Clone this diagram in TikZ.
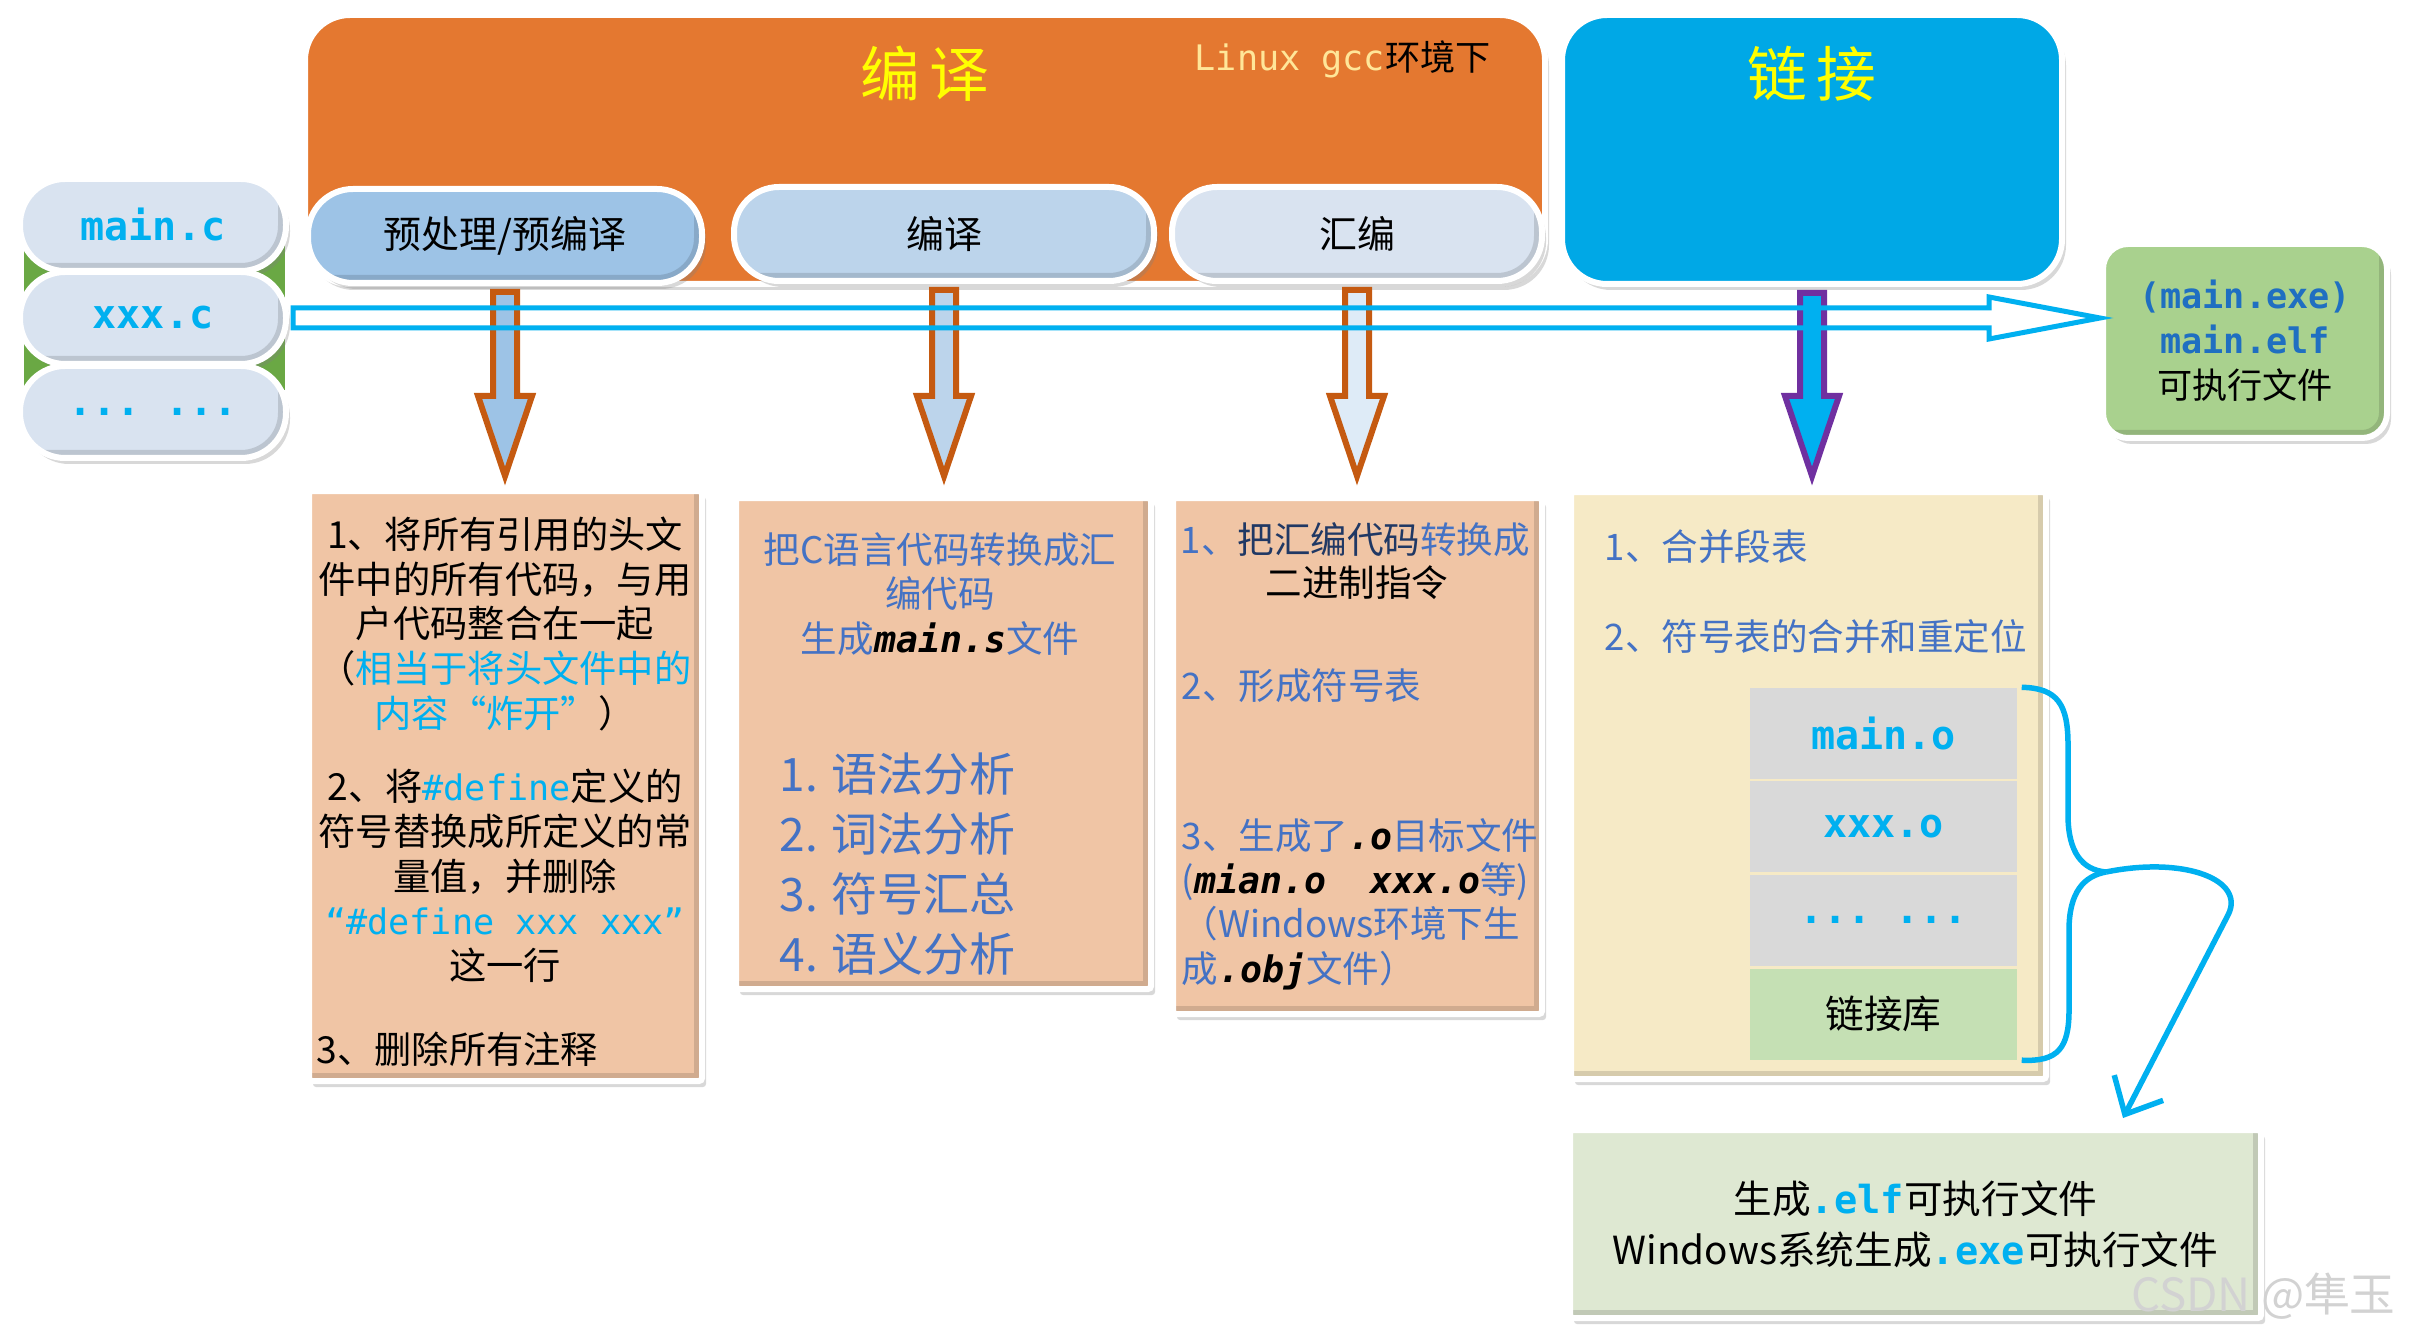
\documentclass[tikz,border=0pt]{standalone}
\usepackage{fontspec}
\setmainfont{Noto Sans CJK SC}
\setmonofont{DejaVu Sans Mono}
\usetikzlibrary{calc,shadows,arrows.meta}

\definecolor{orangeBox}{HTML}{E47830}
\definecolor{linkBlue}{HTML}{00A8E6}
\definecolor{titleYellow}{HTML}{FFFF00}
\definecolor{gccYellow}{HTML}{FFE699}
\definecolor{pillA}{HTML}{9DC3E6}
\definecolor{pillB}{HTML}{BCD4EB}
\definecolor{pillC}{HTML}{D9E3F0}
\definecolor{arrC}{HTML}{DEEBF7}
\definecolor{fileGreen}{HTML}{6AA844}
\definecolor{codeCyan}{HTML}{00B0F0}
\definecolor{textBlue}{HTML}{4472C4}
\definecolor{navyText}{HTML}{203864}
\definecolor{exeBlue}{HTML}{1F6FC1}
\definecolor{arrOrange}{HTML}{C55A11}
\definecolor{arrPurple}{HTML}{7030A0}
\definecolor{peach}{HTML}{F0C5A5}
\definecolor{cream}{HTML}{F6EAC6}
\definecolor{cellGray}{HTML}{D9D9D9}
\definecolor{cellGreen}{HTML}{C5E0B4}
\definecolor{exeGreen}{HTML}{A9D18E}
\definecolor{elfGreen}{HTML}{DEE8D2}

\tikzset{
  whitebox/.style={draw=white, line width=0.6mm,
    drop shadow={shadow xshift=0.4mm, shadow yshift=-0.6mm, opacity=0.3}},
  bevel/.style={path picture={\draw[line width=1.6mm, draw=black, opacity=0.13]
    (path picture bounding box.south west) -- (path picture bounding box.south east)
    -- (path picture bounding box.north east);}},
  title/.style={font=\fontsize{17}{20}\selectfont, text=titleYellow},
  stage/.style={whitebox, bevel, rounded corners=4.5mm, minimum height=9.4mm,
    font=\fontsize{10.8}{13}\selectfont},
  srcfile/.style={stage, fill=pillC, minimum width=26.6mm, minimum height=9.2mm,
    text=codeCyan, font=\fontsize{11.4}{13}\selectfont\ttfamily\bfseries},
  descbox/.style={whitebox, bevel, rounded corners=0.3mm, fill=peach, inner sep=0},
  cell/.style={minimum width=26.7mm, minimum height=9.1mm, fill=cellGray,
    text=codeCyan, font=\fontsize{11.4}{13}\selectfont\ttfamily\bfseries},
  body/.style={font=\fontsize{10.6}{12.7}\selectfont, inner sep=0, align=center},
  note/.style={font=\fontsize{10.4}{12.6}\selectfont, inner sep=0, text=textBlue},
  flowline/.style={draw=codeCyan, line width=0.5mm, line join=miter},
  brace/.style={draw=codeCyan, line width=0.55mm},
}

% block arrow: start, tip, fill, outline
\newcommand{\blockarr}[4]{%
  \draw[line width=0.6mm, draw=#4, fill=#3, line join=miter]
    ($(#1)+(-12,0)$) -- ($(#1)+(12,0)$) -- ($(#2)+(12,-80)$) -- ($(#2)+(27,-80)$)
    -- (#2) -- ($(#2)+(-27,-80)$) -- ($(#2)+(-12,-80)$) -- cycle;
}

\begin{document}
\begin{tikzpicture}[x=0.1mm, y=-0.1mm]
	\useasboundingbox (0,0) rectangle (2418,1339);
	\fill[white] (0,0) rectangle (2418,1339);

	% Compile stage
	\node[whitebox, fill=orangeBox, rounded corners=4.5mm, minimum width=124mm, minimum height=26.9mm] (compile) at (925,149.5) {};
	\node[title] (compileT) at (925,74) {编\,译};
	\node[anchor=east, font=\fontsize{10}{12}\selectfont] (env) at (1503,59) {\textcolor{gccYellow}{\ttfamily Linux gcc}环境下};

	% Link stage
	\node[whitebox, fill=linkBlue, rounded corners=4.5mm, minimum width=50mm, minimum height=26.9mm] (link) at (1812,149.5) {};
	\node[title] (linkT) at (1812,74) {链\,接};

	% Steps
	\node[stage, fill=pillA, minimum width=39.4mm] (pre) at (505,236) {预处理/预编译};
	\node[stage, fill=pillB, minimum width=42mm] (cc) at (944,234) {编译};
	\node[stage, fill=pillC, minimum width=37mm] (asm) at (1357,234) {汇编};

	% Source files
	\fill[fileGreen] (24,245) rectangle (285,390);
	\node[srcfile] (mainc) at (153,225) {main.c};
	\node[srcfile] (xxxc) at (153,318) {xxx.c};
	\node[srcfile] (morec) at (153,412) {... ...};

	% Result
	\node[whitebox, bevel, rounded corners=2.5mm, fill=exeGreen, minimum width=28.4mm, minimum height=19.4mm,
		align=center, font=\fontsize{10}{12.8}\selectfont] (exe) at (2245,341)
		{\textcolor{exeBlue}{\ttfamily\bfseries (main.exe)}\\\textcolor{exeBlue}{\ttfamily\bfseries main.elf}\\可执行文件};

	% Description boxes
	\node[descbox, minimum width=39.3mm, minimum height=59mm] (desc1) at (505.5,786) {};
	\node[descbox, minimum width=41.5mm, minimum height=49.1mm] (desc2) at (943.5,743.5) {};
	\node[descbox, minimum width=36.9mm, minimum height=51.6mm] (desc3) at (1357.5,756) {};
	\node[descbox, fill=cream, minimum width=47.5mm, minimum height=58.7mm] (desc4) at (1808.5,785.5) {};

	% Preprocess notes
	\node[body] (d1a) at (505,624) {1、将所有引用的头文\\件中的所有代码，与用\\户代码整合在一起\\（\textcolor{codeCyan}{相当于将头文件中的}\\\textcolor{codeCyan}{内容“炸开”}）};
	\node[body] (d1b) at (505,876) {2、将\textcolor{codeCyan}{\ttfamily\fontsize{10}{12.7}\selectfont \#define}定义的\\符号替换成所定义的常\\量值，并删除\\\textcolor{codeCyan}{\ttfamily\fontsize{10}{12.7}\selectfont “\#define xxx xxx”}\\这一行};
	\node[body, anchor=west] (d1c) at (316,1049) {3、删除所有注释};

	% Compile notes
	\node[note, align=center] (d2a) at (940,594) {把C语言代码转换成汇\\编代码\\生成\textcolor{black}{\ttfamily\bfseries\itshape main.s}文件};
	\node[note, anchor=west, align=left, font=\fontsize{13.1}{17.1}\selectfont] (d2b) at (779,864) {1. 语法分析\\2. 词法分析\\3. 符号汇总\\4. 语义分析};

	% Assemble notes
	\node[note, anchor=west] (d3a) at (1180,540) {1、\textcolor{navyText}{把汇编代码}转换成};
	\node[note, text=black] (d3b) at (1357,583) {二进制指令};
	\node[note, anchor=west] (d3c) at (1181,686) {2、形成符号表};
	\node[note, anchor=west, align=left] (d3d) at (1181,904) {3、生成了\textcolor{black}{\ttfamily\bfseries\itshape .o}目标文件\\(\textcolor{black}{\ttfamily\bfseries\itshape mian.o\ \ xxx.o}等)\\（Windows环境下生\\成\textcolor{black}{\ttfamily\bfseries\itshape .obj}文件）};

	% Link notes
	\node[note, anchor=west] (d4a) at (1604,547) {1、合并段表};
	\node[note, anchor=west] (d4b) at (1604,637) {2、符号表的合并和重定位};
	\node[cell] (mo) at (1883.5,733.5) {main.o};
	\node[cell] (xo) at (1883.5,826.5) {xxx.o};
	\node[cell] (mo2) at (1883.5,920) {... ...};
	\node[cell, fill=cellGreen, text=black, font=\fontsize{11}{13}\selectfont] (lib) at (1883.5,1014) {链接库};

	% Output of the linker
	\node[whitebox, bevel, rounded corners=0.3mm, fill=elfGreen, minimum width=69.1mm, minimum height=18.8mm,
		align=center, font=\fontsize{11}{14.5}\selectfont] (elf) at (1915.5,1224)
		{生成\textcolor{codeCyan}{\ttfamily\bfseries .elf}可执行文件\\Windows系统生成\textcolor{codeCyan}{\ttfamily\bfseries .exe}可执行文件};

	% Down arrows
	\coordinate (tipY) at (0,476);
	\coordinate (a1s) at ($(pre.south)+(0,6)$);
	\coordinate (a1e) at (pre.south |- tipY);
	\coordinate (a2s) at ($(cc.south)+(0,6)$);
	\coordinate (a2e) at (cc.south |- tipY);
	\coordinate (a3s) at ($(asm.south)+(0,6)$);
	\coordinate (a3e) at (asm.south |- tipY);
	\coordinate (a4s) at ($(link.south)+(0,6)$);
	\coordinate (a4e) at (link.south |- tipY);
	\blockarr{a1s}{a1e}{pillA}{arrOrange}
	\blockarr{a2s}{a2e}{pillB}{arrOrange}
	\blockarr{a3s}{a3e}{arrC}{arrOrange}
	\blockarr{a4s}{a4e}{codeCyan}{arrPurple}

	% Hollow arrow to the executable
	\coordinate (arrS) at ($(xxxc.east)+(4,0)$);
	\coordinate (arrE) at (exe.west |- arrS);
	\draw[flowline] ($(arrS)+(0,-10)$) -- ($(arrE)+(-111,-10)$) -- ($(arrE)+(-111,-21)$) -- (arrE)
		-- ($(arrE)+(-111,21)$) -- ($(arrE)+(-111,10)$) -- ($(arrS)+(0,10)$) -- cycle;

	% Brace round the object files
	\coordinate (bt) at (2106,872);
	\coordinate (elfIn) at ($(elf.north east)+(-141,-9)$);
	\draw[brace] ($(mo.north east)+(4,0)$) .. controls (2058,688) and (2068,705) .. (2068,745) -- (2068,815)
		.. controls (2068,852) and (2082,870) .. (bt);
	\draw[brace] (bt) .. controls (2084,876) and (2069,892) .. (2069,930) -- (2069,1010)
		.. controls (2069,1048) and (2058,1062) .. ($(lib.south east)+(4,0)$);
	\draw[brace, -{Straight Barb[length=3mm, width=5.5mm]}] (bt) .. controls (2185,856) and (2246,880) .. (2228,915) -- (elfIn);

	% Watermark
	\node[anchor=east, text=gray!35, font=\fontsize{13}{13}\selectfont] (mark) at (2408,1296) {CSDN @隼玉};

\end{tikzpicture}
\end{document}
